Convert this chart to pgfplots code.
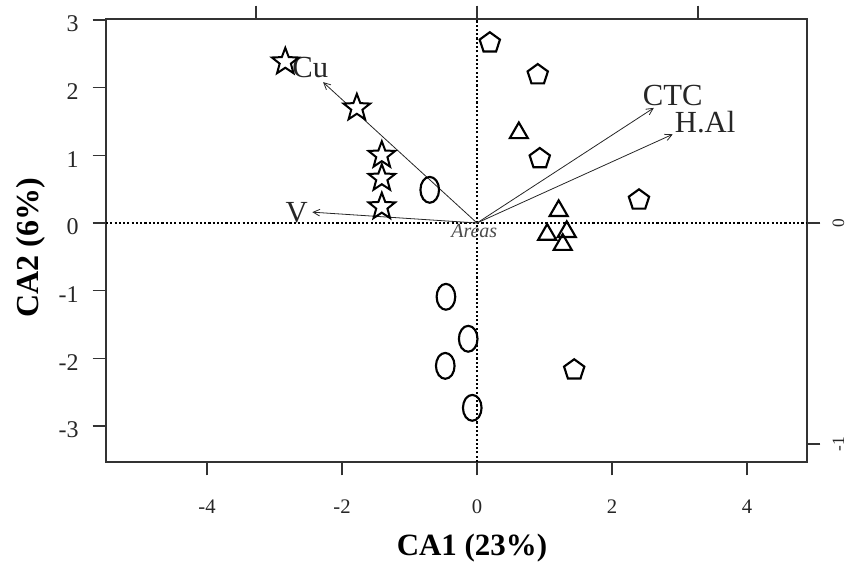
\documentclass[border=0pt]{standalone}
\usepackage{fontspec}
\setmainfont{Liberation Serif}
\usepackage{pgfplots}
\pgfplotsset{compat=1.18}
\usetikzlibrary{plotmarks,arrows.meta}

\pgfdeclareplotmark{ostar}{%
  \pgfpathmoveto{\pgfpointpolar{90}{\pgfplotmarksize}}%
  \pgfpathlineto{\pgfpointpolar{126}{0.42\pgfplotmarksize}}%
  \pgfpathlineto{\pgfpointpolar{162}{\pgfplotmarksize}}%
  \pgfpathlineto{\pgfpointpolar{198}{0.42\pgfplotmarksize}}%
  \pgfpathlineto{\pgfpointpolar{234}{\pgfplotmarksize}}%
  \pgfpathlineto{\pgfpointpolar{270}{0.42\pgfplotmarksize}}%
  \pgfpathlineto{\pgfpointpolar{306}{\pgfplotmarksize}}%
  \pgfpathlineto{\pgfpointpolar{342}{0.42\pgfplotmarksize}}%
  \pgfpathlineto{\pgfpointpolar{18}{\pgfplotmarksize}}%
  \pgfpathlineto{\pgfpointpolar{54}{0.42\pgfplotmarksize}}%
  \pgfpathclose
  \pgfusepathqfillstroke
}
\newcommand{\xtlfont}{\fontsize{15.5}{17}\selectfont}
\newcommand{\ytlfont}{\fontsize{18}{20}\selectfont}
\newcommand{\rtlfont}{\fontsize{13}{15}\selectfont}

\begin{document}
\begin{tikzpicture}
\useasboundingbox (-79.5pt,-78pt) rectangle (559.5pt,346.5pt);
\begin{axis}[
  at={(0,0)}, anchor=south west, scale only axis,
  width=525.75pt, height=332.25pt,
  xmin=-5.496, xmax=4.889, ymin=-3.530, ymax=3.013,
  clip=false,
  axis line style={draw=black!80, line width=1.1pt},
  xtick={-4,-2,0,2,4}, ytick={-3,-2,-1,0,1,2,3},
  xtick pos=left, ytick pos=left,
  tick align=outside, major tick length=10pt,
  tick style={black!80, line width=1pt},
  /pgf/number format/assume math mode=true,
  xticklabel={\xtlfont\pgfmathprintnumber{\tick}},
  yticklabel={\ytlfont\pgfmathprintnumber{\tick}},
  xticklabel style={text=black!85, yshift=-15pt},
  yticklabel style={text=black!85, xshift=-7pt, yshift=-3pt},
  xlabel={CA1 (23\%)}, ylabel={CA2 (6\%)},
  xlabel style={at={(axis description cs:0.522,-0.194)}, anchor=center, inner sep=0pt,
    font=\fontsize{23.2}{26}\selectfont\bfseries},
  ylabel style={at={(axis description cs:-0.107,0.483)}, anchor=center, inner sep=0pt,
    font=\fontsize{24}{26}\selectfont\bfseries},
]
% reference lines
\addplot[black, line width=0.8pt, dash pattern=on 1.6pt off 1.6pt] coordinates {(-5.496,0) (4.889,0)};
\addplot[black, line width=0.8pt, dash pattern=on 1.6pt off 1.6pt] coordinates {(0,-3.53) (0,3.013)};
% variable arrows
\addplot[black!85, line width=0.6pt, -{Straight Barb[length=5pt,width=5pt]}] coordinates {(0,0) (-2.28,2.08)};
\addplot[black!85, line width=0.6pt, -{Straight Barb[length=5pt,width=5pt]}] coordinates {(0,0) (-2.44,0.16)};
\addplot[black!85, line width=0.6pt, -{Straight Barb[length=5pt,width=5pt]}] coordinates {(0,0) (2.62,1.70)};
\addplot[black!85, line width=0.6pt, -{Straight Barb[length=5pt,width=5pt]}] coordinates {(0,0) (2.90,1.31)};
\node[inner sep=0pt, font=\fontsize{23}{26}\selectfont, text=black!85] at (axis cs:-2.47,2.30) {Cu};
\node[inner sep=0pt, font=\fontsize{23}{26}\selectfont, text=black!85] at (axis cs:-2.67,0.15) {V};
\node[inner sep=0pt, font=\fontsize{23}{26}\selectfont, text=black!85] at (axis cs:2.90,1.88) {CTC};
\node[inner sep=0pt, font=\fontsize{23}{26}\selectfont, text=black!85] at (axis cs:3.38,1.49) {H.Al};
\node[inner sep=0pt, font=\fontsize{15}{17}\selectfont\itshape, text=black!70] at (axis cs:-0.04,-0.12) {Areas};
% sites
\addplot[only marks, mark=ostar, mark size=10.5pt, mark options={draw=black, fill=white, line width=1.5pt}]
  coordinates {(-2.84,2.38) (-1.78,1.70) (-1.41,1.00) (-1.41,0.66) (-1.41,0.24)};
\addplot[only marks, mark=o, mark size=9.7pt, mark options={draw=black, xscale=0.72, line width=1.6pt}]
  coordinates {(-0.70,0.49) (-0.46,-1.09) (-0.13,-1.71) (-0.47,-2.11) (-0.07,-2.73)};
\addplot[only marks, mark=pentagon, mark size=8pt, mark options={draw=black, line width=1.6pt}]
  coordinates {(0.19,2.66) (0.90,2.19) (0.93,0.95) (2.40,0.34) (1.44,-2.17)};
\addplot[only marks, mark=triangle, mark size=7.8pt, mark options={draw=black, line width=1.6pt}]
  coordinates {(0.62,1.33) (1.21,0.18) (1.04,-0.17) (1.33,-0.13) (1.27,-0.32)};
\end{axis}
\begin{axis}[
  at={(0,0)}, anchor=south west, scale only axis,
  width=525.75pt, height=332.25pt,
  xmin=-1.679, xmax=1.493, ymin=-1.081, ymax=0.923,
  axis x line*=top, axis y line*=right,
  axis line style={draw=none},
  xtick={-1,0,1}, ytick={-1,0}, xticklabels={},
  tick align=outside, major tick length=10pt,
  tick style={black!80, line width=1pt},
  /pgf/number format/assume math mode=true,
  yticklabel={\rtlfont\pgfmathprintnumber{\tick}},
  yticklabel style={xshift=8pt, rotate=90, anchor=north, inner sep=1pt, text=black!85},
]
\addplot[draw=none] coordinates {(0,0)};
\end{axis}
\end{tikzpicture}
\end{document}
